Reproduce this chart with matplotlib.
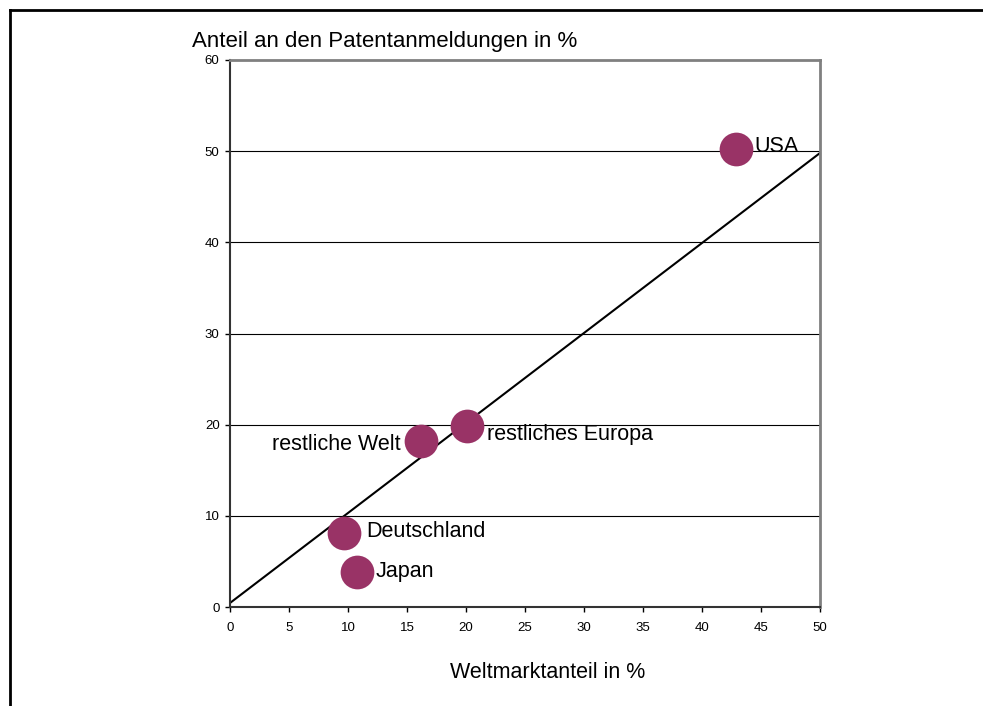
import matplotlib.pyplot as plt
from matplotlib.lines import Line2D

plt.rcParams['font.family'] = ['Liberation Sans', 'DejaVu Sans']

regions = ["USA", "restliches Europa", "restliche Welt", "Deutschland", "Japan"]
weltmarkt = [42.9, 20.1, 16.2, 9.7, 10.8]
patente = [50.2, 19.8, 18.2, 8.1, 3.8]

trend_x = [0, 50]
trend_y = [0.44, 49.8]

W, H = 983, 706
fig = plt.figure(figsize=(W / 100, H / 100), dpi=100)
ax = fig.add_axes([230 / W, 1 - 607 / H, 590 / W, 547 / H])

# outer frame (only top and left visible)
fig.add_artist(Line2D([10 / W, 1], [1 - 10 / H, 1 - 10 / H], color='black', lw=2))
fig.add_artist(Line2D([10 / W, 10 / W], [0, 1 - 10 / H], color='black', lw=2))

for y in range(10, 60, 10):
    ax.axhline(y, color='black', lw=0.8, zorder=1)

ax.plot(trend_x, trend_y, color='black', lw=1.5, zorder=2)
ax.scatter(weltmarkt, patente, s=590, color='#993366', zorder=3, linewidths=0)

# label offsets in points
offsets = {
    "USA": (13, 2, 'left'),
    "restliches Europa": (14.5, -5.8, 'left'),
    "restliche Welt": (-14.5, -2.2, 'right'),
    "Deutschland": (16, 1.5, 'left'),
    "Japan": (13, 0.5, 'left'),
}
for name, x, y in zip(regions, weltmarkt, patente):
    dx, dy, ha = offsets[name]
    ax.annotate(name, (x, y), xytext=(dx, dy), textcoords='offset points',
                ha=ha, va='center', fontsize=15.5, zorder=4)

ax.set_xlim(0, 50)
ax.set_ylim(0, 60)
ax.set_xticks(range(0, 51, 5))
ax.set_yticks(range(0, 61, 10))
ax.tick_params(labelsize=9.5, length=3.5, width=1, color='black')
ax.tick_params(axis='y', pad=4)
ax.tick_params(axis='x', pad=7)

for side in ['top', 'right']:
    ax.spines[side].set_color('#808080')
    ax.spines[side].set_linewidth(2)
for side in ['left', 'bottom']:
    ax.spines[side].set_color('#333333')
    ax.spines[side].set_linewidth(1.5)

fig.text(192 / W, 1 - 42 / H, "Anteil an den Patentanmeldungen in %",
         ha='left', va='center', fontsize=16)
fig.text(548 / W, 1 - 672 / H, "Weltmarktanteil in %",
         ha='center', va='center', fontsize=15.5)

fig.savefig('out.png', dpi=100)
